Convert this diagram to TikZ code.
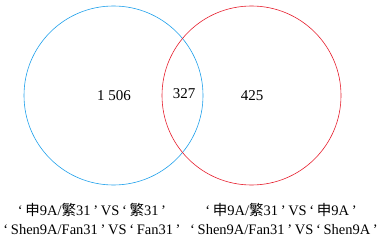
\documentclass[tikz,border=0pt]{standalone}
\usepackage{fontspec}
\setmainfont{Liberation Serif}
\newfontfamily\cjk{Noto Sans CJK SC}
\usetikzlibrary{calc}
\definecolor{setblue}{RGB}{30,160,235}
\definecolor{setred}{RGB}{230,30,45}
\newcommand\oq{\makebox[0.7em]{‘}}
\newcommand\cq{\makebox[0.7em]{’}}

\begin{document}
\begin{tikzpicture}[x=1pt, y=-1pt, line width=0.6pt,
  num/.style={font=\fontsize{15}{16}\selectfont},
  lab/.style={font=\fontsize{14.5}{15}\selectfont, inner sep=0pt}]
  \useasboundingbox (0,0) rectangle (382,240);
  % 两个集合, 半径相同
  \def\r{89.5}
  \coordinate (L) at (113.5,95.5);
  \coordinate (R) at (251.5,95.5);
  \draw[setblue] (L) circle (\r);
  \draw[setred] (R) circle (\r);
  % 各区域数目
  \node[num] (nL) at (114,96) {1\ 506};
  \node[num] (nM) at (184,94) {327};
  \node[num] (nR) at (252,96) {425};
  % 图例
  \node[lab] (tL1) at (92,210) {\oq{\cjk 申}9A/{\cjk 繁}31\cq VS\oq{\cjk 繁}31\cq};
  \node[lab] (tL2) at (92,230) {\oq Shen9A/Fan31\cq VS\oq Fan31\cq};
  \node[lab] (tR1) at (281,210) {\oq{\cjk 申}9A/{\cjk 繁}31\cq VS\oq{\cjk 申}9A\cq};
  \node[lab] (tR2) at (284,230) {\oq Shen9A/Fan31\cq VS\oq Shen9A\cq};
\end{tikzpicture}
\end{document}
